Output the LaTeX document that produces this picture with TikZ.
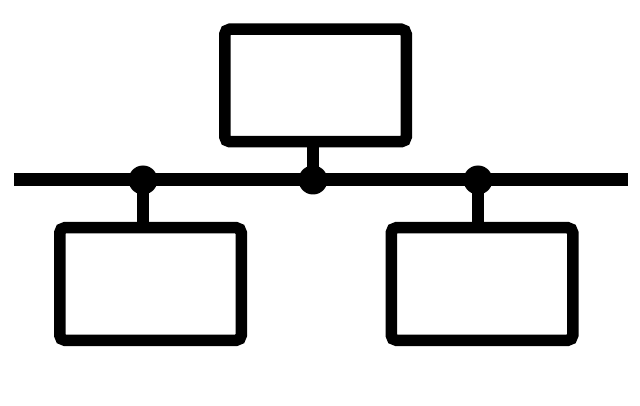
\documentclass[tikz,border=0pt]{standalone}
\usetikzlibrary{positioning,calc}

\begin{document}
\begin{tikzpicture}[x=1pt,y=-1pt,line width=11.5pt,
		host/.style={draw,rectangle,rounded corners=5pt,inner sep=0pt,
			minimum width=181.5pt,minimum height=112.5pt},
		tap/.style={circle,fill,inner sep=0pt,minimum size=29pt}]
		\useasboundingbox (0,0) rectangle (640,406);
		% bus
		\coordinate (bus-W) at (14,180);
		\coordinate (bus-E) at (628,180);
		\draw[line width=13pt] (bus-W) -- (bus-E);
		% hosts
		\node[host] (H-1) at (150.5,284) {};
		\node[host] (H-2) at (315.5,85.5) {};
		\node[host] (H-3) at (482,284) {};
		\foreach \X [count=\Y] in {143,313,478}
		{\node[tap] (T-\Y) at (\X,180) {};}
		% drops
		\draw (T-1.center) -- (T-1 |- H-1.north);
		\draw (T-2.center) -- (T-2 |- H-2.south);
		\draw (T-3.center) -- (T-3 |- H-3.north);
		\end{tikzpicture}
\end{document}
